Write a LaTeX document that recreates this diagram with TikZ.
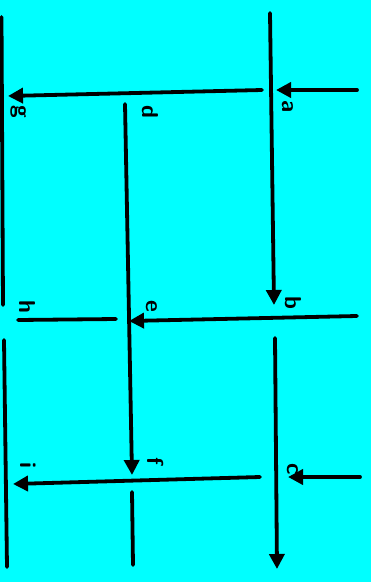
\documentclass[tikz,border=0pt]{standalone}
\usetikzlibrary{arrows.meta}
\definecolor{bgcyan}{HTML}{00FFFF}
\begin{document}
\begin{tikzpicture}[x=1pt,y=-1pt,
  wire/.style={line width=3.8pt,line cap=round},
  flow/.style={wire,-{Triangle[length=15pt,width=15pt]}},
  lab/.style={rotate=-90,inner sep=0pt,font=\fontsize{23}{23}\selectfont\sffamily\bfseries}]
\fill[bgcyan] (0,0) rectangle (371,582);
\useasboundingbox (0,0) rectangle (371,582);
% coordinates
\coordinate (L1s) at (1.5,17);  \coordinate (L1e) at (3,305);
\coordinate (L2s) at (4,340);   \coordinate (L2e) at (7,567);
\coordinate (M1s) at (125,104); \coordinate (M1e) at (132,475);
\coordinate (M2s) at (132,492); \coordinate (M2e) at (133,565);
\coordinate (R1s) at (270,13);  \coordinate (R1e) at (274,305);
\coordinate (R2s) at (275,338); \coordinate (R2e) at (277,569);
\coordinate (H1s) at (357,90);  \coordinate (H1e) at (276,90);
\coordinate (H1bs) at (262,90); \coordinate (H1be) at (8,96);
\coordinate (H2s) at (357,316); \coordinate (H2e) at (129,321);
\coordinate (H2bs) at (116,319); \coordinate (H2be) at (18,320);
\coordinate (H3s) at (360,477); \coordinate (H3e) at (288,477);
\coordinate (H3bs) at (260,477); \coordinate (H3be) at (13,484);
% lines
\draw[wire] (L1s) -- (L1e);
\draw[wire] (L2s) -- (L2e);
\draw[flow] (M1s) -- (M1e);
\draw[wire] (M2s) -- (M2e);
\draw[flow] (R1s) -- (R1e);
\draw[flow] (R2s) -- (R2e);
\draw[flow] (H1s) -- (H1e);
\draw[flow] (H1bs) -- (H1be);
\draw[flow] (H2s) -- (H2e);
\draw[wire] (H2bs) -- (H2be);
\draw[flow] (H3s) -- (H3e);
\draw[flow] (H3bs) -- (H3be);
% labels
\node[lab] (a) at (288,107) {a};
\node[lab] (g) at (19,112) {g};
\node[lab] (d) at (150,112) {d};
\node[lab] (b) at (293,303) {b};
\node[lab] (e) at (152,306) {e};
\node[lab] (h) at (27,307) {h};
\node[lab] (f) at (156,461) {f};
\node[lab] (i) at (28,465) {i};
\node[lab] (c) at (293,469) {c};
\end{tikzpicture}
\end{document}
